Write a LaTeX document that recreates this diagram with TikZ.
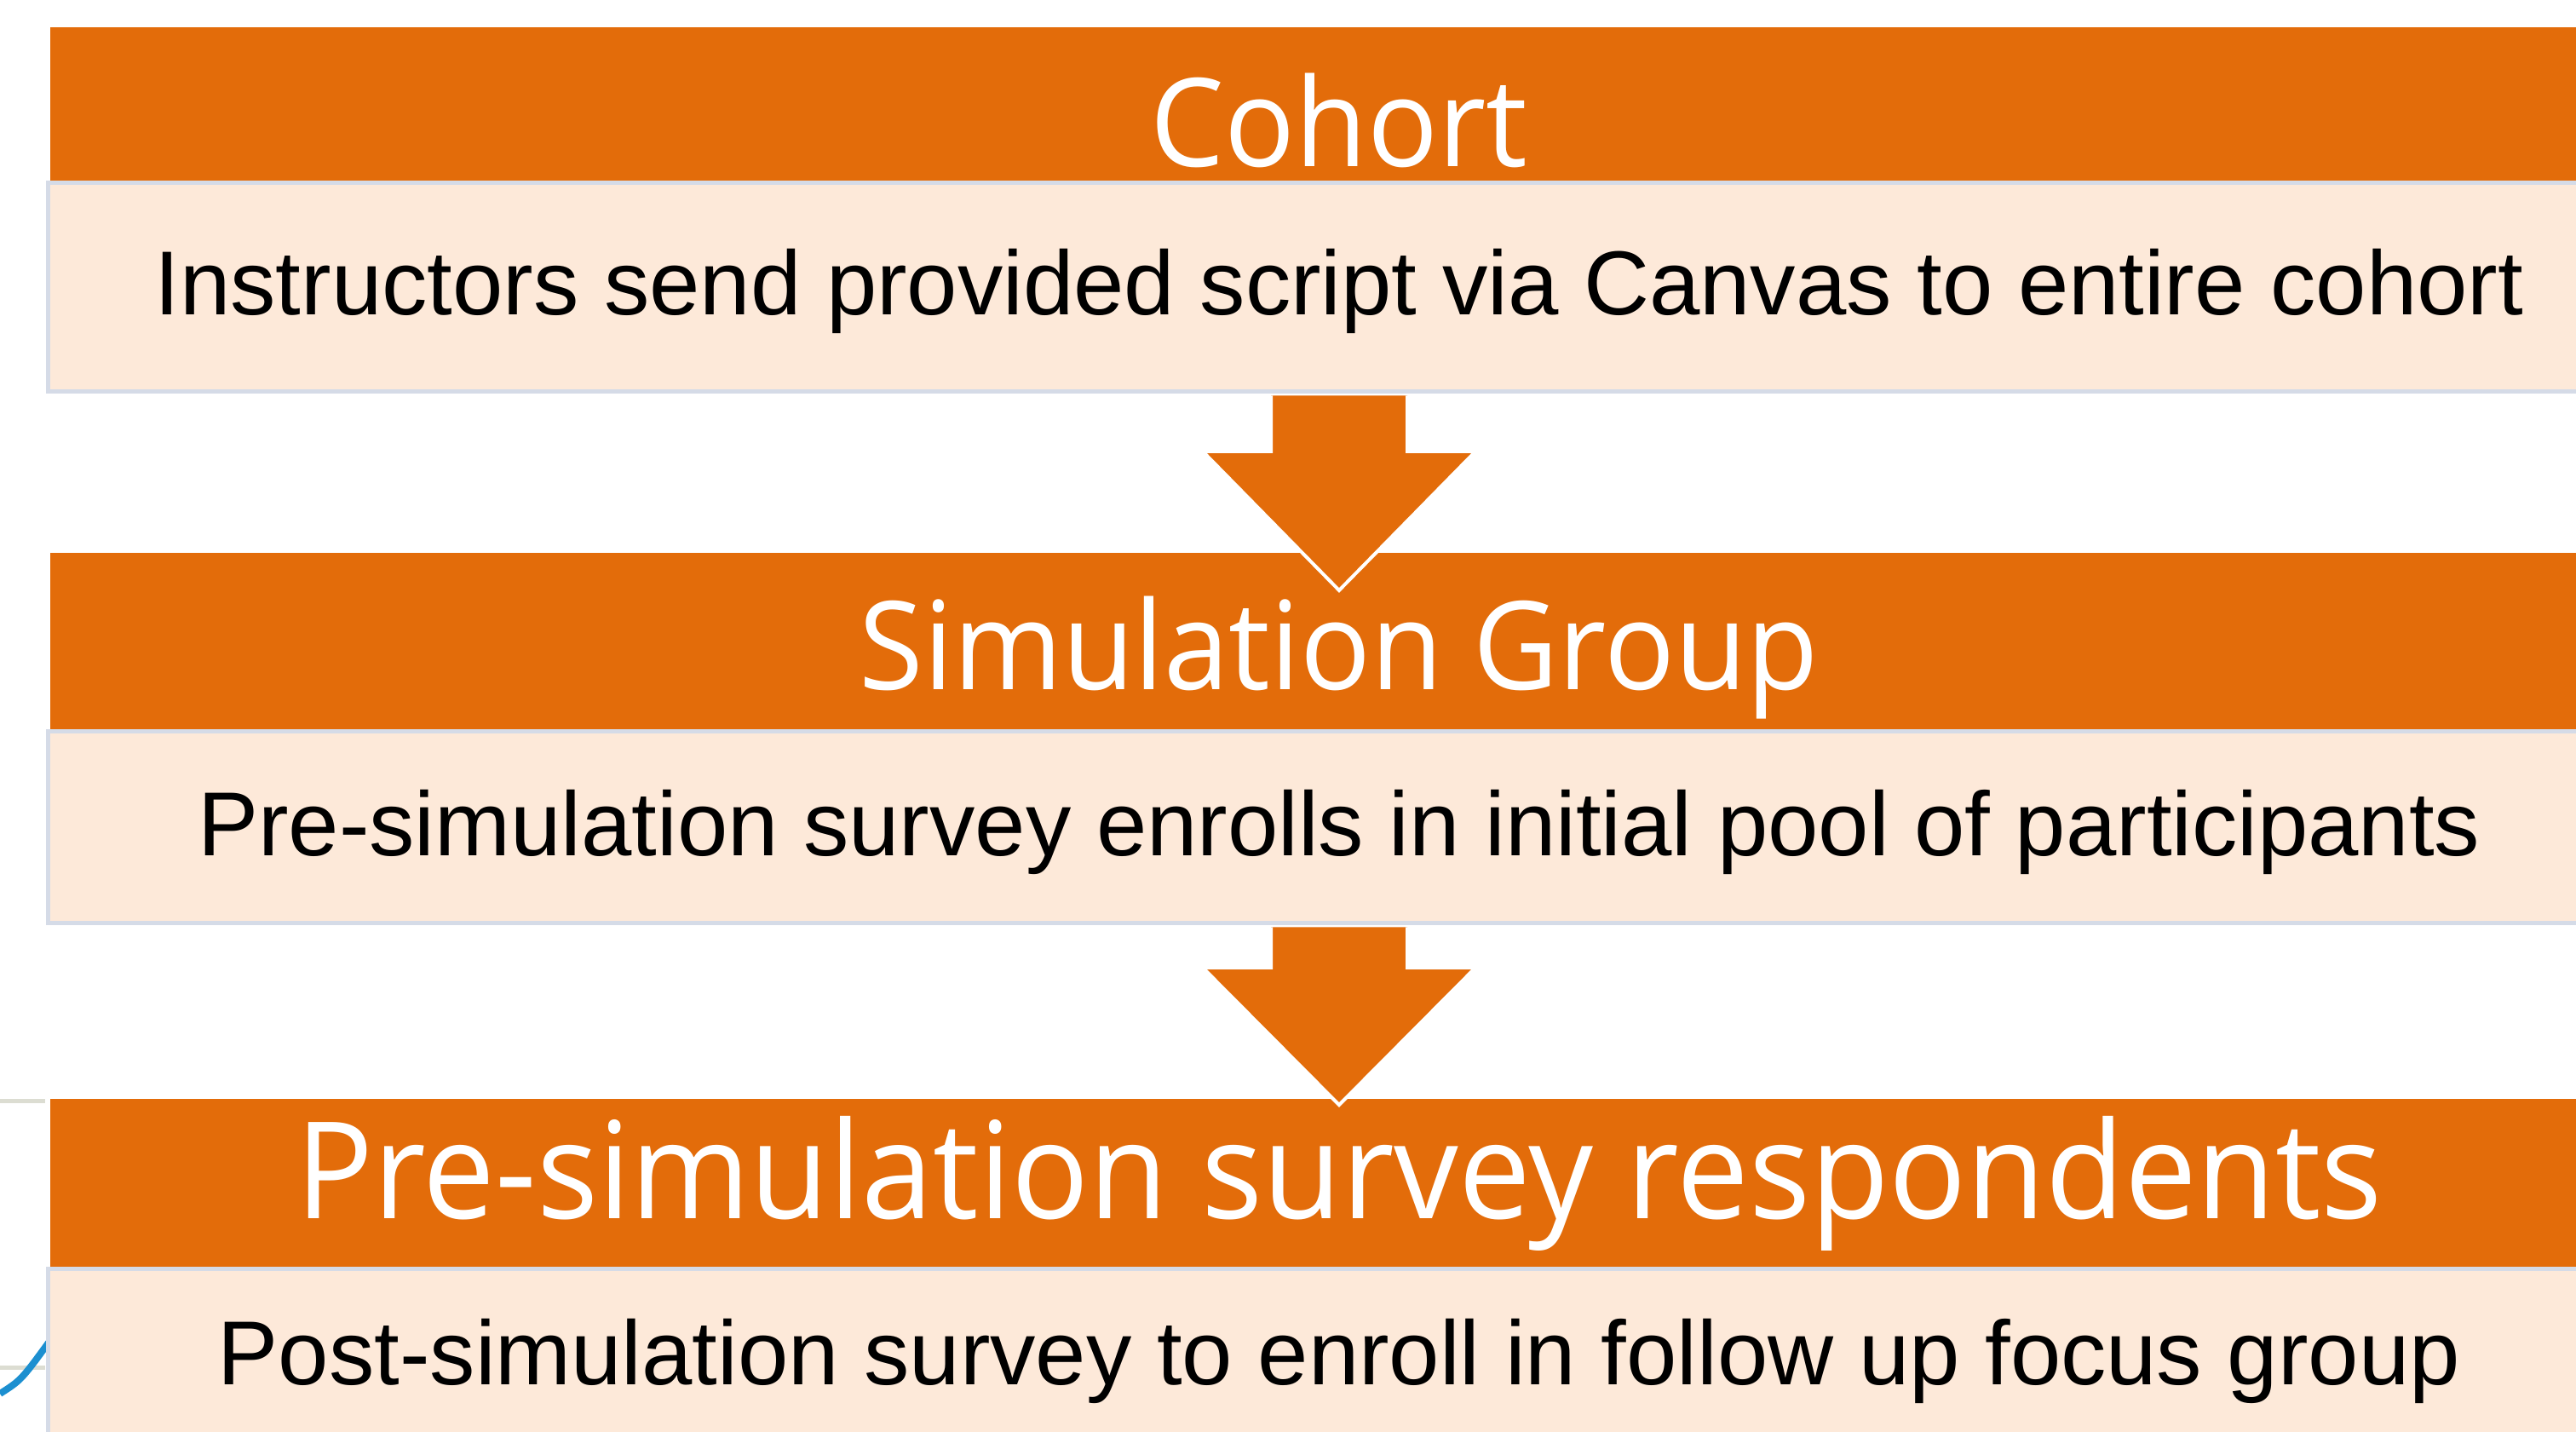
\documentclass[tikz,border=0pt]{standalone}
\usepackage{fontspec}
\setmainfont{Liberation Sans}
\newfontfamily\headfont{Open Sans}[FakeStretch=0.955]
\usetikzlibrary{calc}
\definecolor{stageorange}{HTML}{E36C0A}
\definecolor{stagepeach}{HTML}{FDE9D9}
\definecolor{stageedge}{HTML}{D5DBE7}
\definecolor{chartgrey}{HTML}{DCDDD2}
\definecolor{chartblue}{HTML}{1C8FD0}
\tikzstyle{headbox} = [rectangle, fill=stageorange, minimum width=30.26cm, inner sep=0pt]
\tikzstyle{bodybox} = [rectangle, fill=stagepeach, draw=stageedge, line width=0.05cm, minimum width=30.31cm, inner sep=0pt]
\tikzstyle{headtext} = [anchor=base, text=white, inner sep=0pt, font=\headfont\fontsize{41}{41}\selectfont]
\tikzstyle{bodytext} = [anchor=base, text=black, inner sep=0pt, font=\fontsize{30.35}{31}\selectfont]
\tikzstyle{flowarrow} = [fill=stageorange, draw=white, line width=0.04cm, line join=miter]

\begin{document}
\begin{tikzpicture}
    \useasboundingbox (0,0) rectangle (30.24,-16.81);

    % bits of the chart behind the slide
    \draw [chartgrey, line width=0.05cm] (0,-12.93) -- (0.53,-12.93);
    \draw [chartgrey, line width=0.05cm] (0,-16.05) -- (0.53,-16.05);
    \draw [chartblue, line width=0.08cm] (0,-16.36) .. controls (0.25,-16.2) .. (0.6,-15.72);

    \node (cohort) [headbox, minimum height=1.80cm] at (15.72,-1.22) {};
    \node (cohort-label) [headtext] at (15.72,-1.96) {Cohort};
    \node (cohort-body) [bodybox, minimum height=2.455cm] at (15.72,-3.3725) {};
    \node (cohort-text) [bodytext] at (15.72,-3.70) {Instructors send provided script via Canvas to entire cohort};

    \node (simgroup) [headbox, minimum height=2.07cm] at (15.72,-7.525) {};
    \node (simgroup-label) [headtext] at (15.72,-8.10) {Simulation Group};
    \coordinate (tip1) at (15.72,-6.93);
    \path [flowarrow] ($(cohort-body.south)+(-0.8,-0.02)$) |- ($(tip1)+(-1.6,1.63)$) -- (tip1)
        -- ($(tip1)+(1.6,1.63)$) -| ($(cohort-body.south)+(0.8,-0.02)$);
    \node (simgroup-body) [bodybox, minimum height=2.255cm] at (15.72,-9.7125) {};
    \node (simgroup-text) [bodytext] at (15.72,-10.05) {Pre-simulation survey enrolls in initial pool of participants};

    \node (respondents) [headbox, minimum height=1.97cm] at (15.72,-13.885) {};
    \node (respondents-label) [headtext, font=\headfont\fontsize{45}{45}\selectfont] at (15.72,-14.305) {Pre-simulation survey respondents};
    \coordinate (tip2) at (15.72,-12.97);
    \path [flowarrow] ($(simgroup-body.south)+(-0.8,-0.02)$) |- ($(tip2)+(-1.6,1.61)$) -- (tip2)
        -- ($(tip2)+(1.6,1.61)$) -| ($(simgroup-body.south)+(0.8,-0.02)$);
    \node (respondents-body) [bodybox, minimum height=2.8cm] at (15.72,-16.295) {};
    \node (respondents-text) [bodytext] at (15.72,-16.26) {Post-simulation survey to enroll in follow up focus group};

\end{tikzpicture}
\end{document}
